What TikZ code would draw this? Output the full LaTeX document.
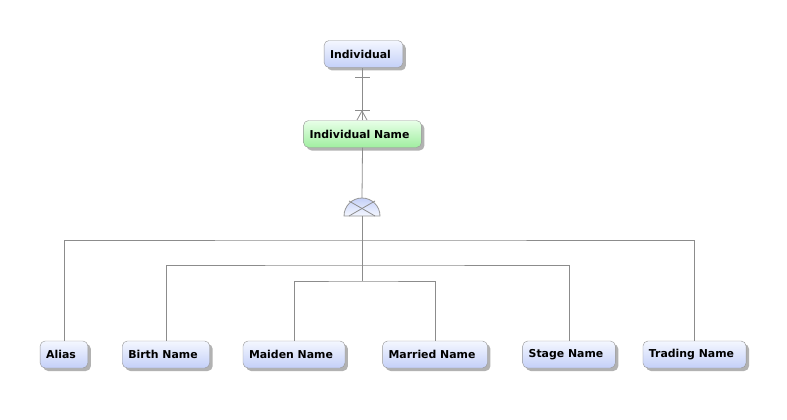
\documentclass[tikz,border=0pt]{standalone}
\usepackage{fontspec}
\setmainfont{DejaVu Sans}
\usetikzlibrary{shadows}

\definecolor{boxblue}{RGB}{196,208,248}
\definecolor{boxtop}{RGB}{244,247,255}
\definecolor{boxgreen}{RGB}{160,238,160}
\definecolor{greentop}{RGB}{232,255,232}
\definecolor{edgegray}{RGB}{150,150,150}
\definecolor{linegray}{RGB}{140,140,140}

\tikzset{
  entity/.style={draw=edgegray, rounded corners=5pt, top color=boxtop, bottom color=boxblue,
    minimum height=27pt, inner xsep=6pt, inner ysep=0pt,
    font=\fontsize{10.9}{13}\selectfont\bfseries, execute at end node={\hspace*{6pt}},
    drop shadow={shadow xshift=3pt, shadow yshift=-3pt, opacity=0.3, fill=black}},
  subentity/.style={entity, top color=greentop, bottom color=boxgreen},
  link/.style={draw=linegray, line width=0.8pt}
}

\begin{document}
\begin{tikzpicture}[x=1pt, y=-1pt]
        \useasboundingbox (0,0) rectangle (787,420);

        \node[entity] (ind) at (363.5,54) {Individual};
        \node[subentity] (indname) at (362.5,134) {Individual Name};

        \node[entity] (alias) at (64,354.5) {Alias};
        \node[entity] (birth) at (166,354.5) {Birth Name};
        \node[entity] (maiden) at (294,354.5) {Maiden Name};
        \node[entity] (married) at (435,354.5) {Married Name};
        \node[entity] (stage) at (569,354.5) {Stage Name};
        \node[entity] (trading) at (694.5,354.5) {Trading Name};

        % one to many
        \draw[link] (indname.north) -- (indname.north |- ind.south);
        \draw[link] (355,77) -- (370,77);
        \draw[link] (355,110.7) -- (370,110.7);
        \draw[link] (357,120) -- (362,111) -- (367,120);

        % gate
        \coordinate (gate) at (362,216);
        \coordinate (gatetop) at (362,198);
        \path[draw=edgegray, line width=0.8pt, top color=boxblue, bottom color=boxtop]
              (gate) ++(-18,0) arc[start angle=180, end angle=0, radius=18pt] -- cycle;
        \draw[link] (349,201) -- (375,216);
        \draw[link] (375,201) -- (349,216);

        \coordinate (lvlA) at (362,240);
        \coordinate (lvlB) at (362,265);
        \coordinate (lvlC) at (362,281);

        \draw[link] (indname.south) -- (gatetop);
        \draw[link] (gate) -- (lvlC);
        \draw[link] (alias.north) |- (lvlA) -| (trading.north);
        \draw[link] (birth.north) |- (lvlB) -| (stage.north);
        \draw[link] (maiden.north) |- (lvlC) -| (married.north);
\end{tikzpicture}
\end{document}
